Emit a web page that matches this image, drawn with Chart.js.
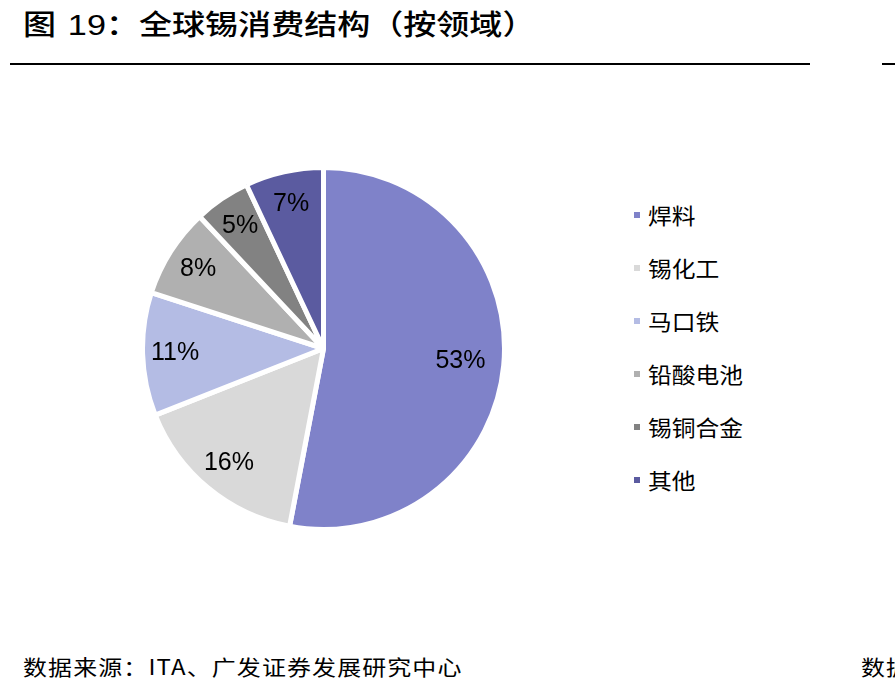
<!DOCTYPE html>
<html>
<head>
<meta charset="utf-8">
<script src="https://cdn.jsdelivr.net/npm/chart.js@4"></script>
<style>
  body { margin: 0; width: 895px; height: 696px; background: #fff; position: relative; overflow: hidden;
         font-family: "Noto Sans CJK SC", "Liberation Sans", sans-serif; color: #000; }
  .title { position: absolute; left: 23px; top: 3px; font-size: 28px; font-weight: 500; white-space: nowrap;
           transform: scaleX(1.18); transform-origin: left top; }
  .title .num { font-family: "Liberation Sans", Arial, sans-serif; font-weight: normal; font-size: 29px; margin-left: 10px; }
  .rule { position: absolute; top: 63px; height: 2px; background: #000; }
  .source { position: absolute; left: 23px; top: 651px; font-size: 21px; white-space: nowrap;
            transform: scaleX(1.14); transform-origin: left top; letter-spacing: 1px; }
  #chartBox { position: absolute; left: 140px; top: 165px; width: 367px; height: 367px; }
  #legend { position: absolute; left: 634px; top: 0; }
  .item { position: absolute; left: 0; white-space: nowrap; }
  .item .sw { position: absolute; left: 0; width: 6px; height: 6px; }
  .item .tx { position: absolute; left: 14px; font-size: 22px; line-height: 22px;
              transform: scaleX(1.08); transform-origin: left top; }
</style>
</head>
<body>
<div class="title">图<span class="num">19</span>：全球锡消费结构（按领域）</div>
<div class="rule" style="left:10px; width:800px;"></div>
<div class="rule" style="left:882px; width:13px;"></div>
<div id="chartBox"><canvas id="pie"></canvas></div>
<div id="legend"></div>
<div class="source">数据来源：ITA、广发证券发展研究中心</div>
<div class="source" style="left:861px;">数据</div>
<script>
const categories = ['焊料', '锡化工', '马口铁', '铅酸电池', '锡铜合金', '其他'];
const shares = [53, 16, 11, 8, 5, 7];
const colors = ['#7F82C9', '#D9D9D9', '#B4BCE4', '#B0B0B0', '#828282', '#5B5BA0'];

// legend rows
const legend = document.getElementById('legend');
categories.forEach((name, i) => {
  const cy = 215 + i * 53;
  const item = document.createElement('div');
  item.className = 'item';
  item.style.top = cy + 'px';
  item.innerHTML = '<span class="sw" style="top:-3px;background:' + colors[i] + '"></span>' +
                   '<span class="tx" style="top:-12px">' + name + '</span>';
  legend.appendChild(item);
});

// percent labels inside the slices
const sliceLabels = {
  id: 'sliceLabels',
  afterDatasetsDraw(chart) {
    const ctx = chart.ctx;
    const meta = chart.getDatasetMeta(0);
    ctx.save();
    ctx.font = '25px "Liberation Sans", Arial, sans-serif';
    ctx.fillStyle = '#000';
    ctx.textAlign = 'center';
    ctx.textBaseline = 'middle';
    meta.data.forEach((arc, i) => {
      const p = arc.getProps(['x', 'y', 'startAngle', 'endAngle', 'outerRadius'], true);
      const mid = (p.startAngle + p.endAngle) / 2;
      const r = p.outerRadius * (shares[i] > 20 ? 0.76 : 0.82);
      ctx.fillText(shares[i] + '%', p.x + Math.cos(mid) * r, p.y + Math.sin(mid) * r);
    });
    ctx.restore();
  }
};

new Chart(document.getElementById('pie'), {
  type: 'pie',
  data: {
    labels: categories,
    datasets: [{
      data: shares,
      backgroundColor: colors,
      borderColor: '#fff',
      borderWidth: 5
    }]
  },
  options: {
    responsive: true,
    maintainAspectRatio: false,
    animation: false,
    layout: { padding: 0 },
    plugins: {
      legend: { display: false },
      tooltip: { enabled: false }
    }
  },
  plugins: [sliceLabels]
});
</script>
</body>
</html>
